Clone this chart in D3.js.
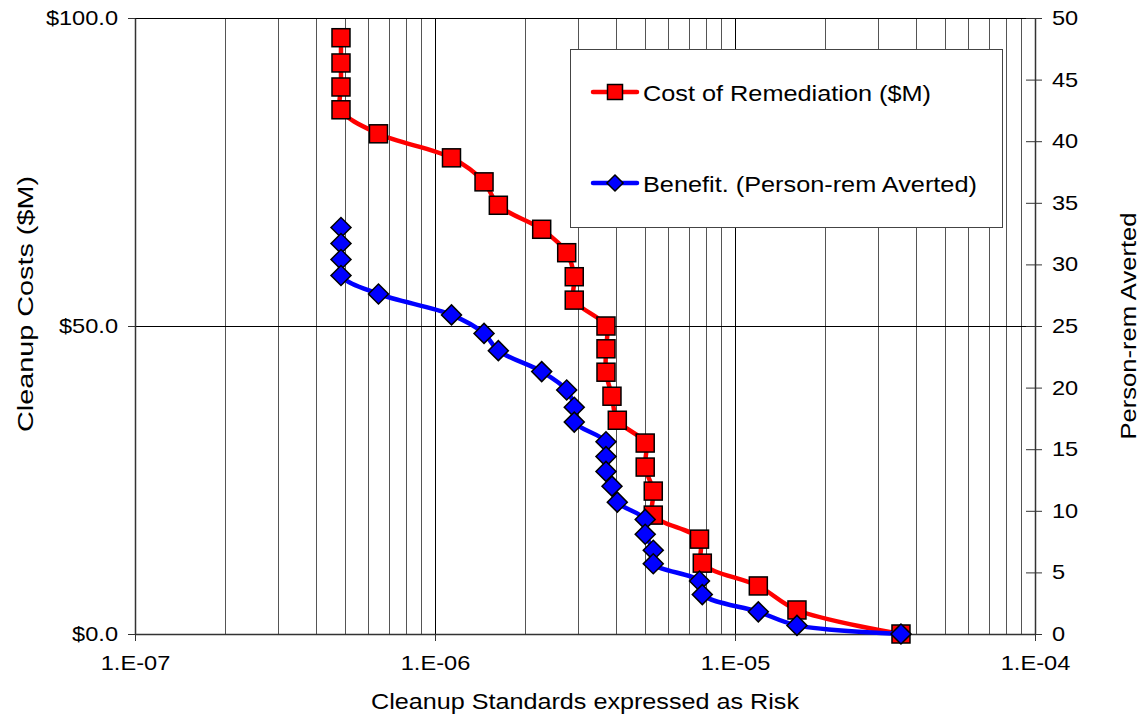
<!DOCTYPE html>
<html>
<head>
<meta charset="utf-8">
<script src="https://cdn.jsdelivr.net/npm/d3@7"></script>
<style>
body { margin: 0; background: #fff; }
text { font-family: "Liberation Sans", Arial, sans-serif; fill: #000; }
</style>
</head>
<body>
<div id="chart"></div>
<script>
// risk level of each cleanup standard (shared by both series)
var riskLevels = [4.86e-7, 4.86e-7, 4.86e-7, 4.86e-7, 6.48e-7, 1.135e-6, 1.457e-6, 1.626e-6,
	2.268e-6, 2.748e-6, 2.912e-6, 2.912e-6, 3.715e-6, 3.715e-6, 3.715e-6, 3.89e-6, 4.052e-6,
	5.02e-6, 5.02e-6, 5.34e-6, 5.34e-6, 7.615e-6, 7.78e-6, 1.196e-5, 1.609e-5, 3.575e-5];
var costValues = [96.8, 92.7, 88.8, 85.1, 81.2, 77.3, 73.4, 69.6, 65.7, 61.9, 58.0, 54.2, 50.0,
	46.3, 42.5, 38.6, 34.7, 31.0, 27.1, 23.2, 19.3, 15.4, 11.5, 7.8, 3.9, 0];
var personRem = [33.0, 31.7, 30.4, 29.1, 27.6, 25.9, 24.4, 23.0, 21.3, 19.8, 18.4, 17.2, 15.6,
	14.4, 13.2, 12.0, 10.7, 9.3, 8.1, 6.8, 5.7, 4.3, 3.2, 1.8, 0.7, 0];
var riskTicks = [1e-7, 1e-6, 1e-5, 1e-4];
var costTicks = [0, 50, 100];
var remTicks = [0, 5, 10, 15, 20, 25, 30, 35, 40, 45, 50];
var seriesNames = ["Cost of Remediation ($M)", "Benefit. (Person-rem Averted)"];

var width = 1146, height = 717;
var margin = {top: 18, left: 135};
var plotW = 900, plotH = 616;

var xScale = d3.scaleLog().domain([1e-7, 1e-4]).range([0, plotW]);
var yCost = d3.scaleLinear().domain([0, 100]).range([plotH, 0]);
var yRem = d3.scaleLinear().domain([0, 50]).range([plotH, 0]);

// Excel text looks a bit wider than Arial, stretch it horizontally
function stretch(sel, k) {
	sel.each(function() {
		var t = d3.select(this);
		var x = +t.attr("x") || 0;
		t.attr("transform", "translate(" + (x * (1 - k)) + ",0) scale(" + k + ",1)");
	});
}

var svg = d3.select("#chart").append("svg")
	.attr("width", width)
	.attr("height", height);

var g = svg.append("g")
	.attr("transform", "translate(" + margin.left + "," + margin.top + ")");

// vertical grid (minor + major)
g.append("g").selectAll("line").data(xScale.ticks())
	.enter().append("line")
		.attr("x1", function(d){ return Math.round(xScale(d)) + 0.5; })
		.attr("x2", function(d){ return Math.round(xScale(d)) + 0.5; })
		.attr("y1", 0)
		.attr("y2", plotH)
		.attr("stroke", function(d){
			return riskTicks.some(function(t){ return Math.abs(t - d) / t < 1e-6; }) ? "#000" : "#555";
		})
		.attr("stroke-width", 1);

// horizontal grid
g.append("g").selectAll("line").data(costTicks.slice(1))
	.enter().append("line")
		.attr("x1", 0)
		.attr("x2", plotW)
		.attr("y1", function(d){ return Math.round(yCost(d)) + 0.5; })
		.attr("y2", function(d){ return Math.round(yCost(d)) + 0.5; })
		.attr("stroke", "#000");

// axes
var xAxis = g.append("g")
	.attr("transform", "translate(0," + plotH + ")")
	.call(d3.axisBottom(xScale).tickValues(riskTicks)
		.tickFormat(function(d){ return "1.E-" + String(-Math.round(Math.log10(d))).padStart(2, "0"); })
		.tickSizeInner(7).tickSizeOuter(0).tickPadding(15));

var leftAxis = g.append("g")
	.call(d3.axisLeft(yCost).tickValues(costTicks)
		.tickFormat(function(d){ return "$" + d.toFixed(1); })
		.tickSizeInner(7).tickSizeOuter(0).tickPadding(10));

var rightAxis = g.append("g")
	.attr("transform", "translate(" + plotW + ",0)")
	.call(d3.axisRight(yRem).tickValues(remTicks)
		.tickSizeInner(7).tickSizeOuter(0).tickPadding(10));
rightAxis.selectAll(".tick line").attr("x1", -9);

[xAxis, leftAxis, rightAxis].forEach(function(a){
	a.select(".domain").attr("stroke", "#333").attr("stroke-width", 1.5);
	a.selectAll(".tick line").attr("stroke", "#333");
	a.selectAll("text")
		.style("font-family", "'Liberation Sans', Arial, sans-serif")
		.style("font-size", "20px")
		.attr("fill", "#000");
	stretch(a.selectAll("text"), 1.18);
});

// axis titles
svg.append("text")
	.attr("x", 585).attr("y", 709)
	.attr("text-anchor", "middle")
	.attr("textLength", 428).attr("lengthAdjust", "spacingAndGlyphs")
	.style("font-size", "22px")
	.text("Cleanup Standards expressed as Risk");

svg.append("text")
	.attr("transform", "translate(33,304) rotate(-90)")
	.attr("text-anchor", "middle")
	.attr("textLength", 256).attr("lengthAdjust", "spacingAndGlyphs")
	.style("font-size", "22px")
	.text("Cleanup Costs ($M)");

svg.append("text")
	.attr("transform", "translate(1136,326) rotate(-90)")
	.attr("text-anchor", "middle")
	.attr("textLength", 227).attr("lengthAdjust", "spacingAndGlyphs")
	.style("font-size", "22px")
	.text("Person-rem Averted");

// series
var idx = d3.range(riskLevels.length);

var costLine = d3.line()
	.x(function(i){ return xScale(riskLevels[i]); })
	.y(function(i){ return yCost(costValues[i]); })
	.curve(d3.curveCatmullRom.alpha(0.5));

var remLine = d3.line()
	.x(function(i){ return xScale(riskLevels[i]); })
	.y(function(i){ return yRem(personRem[i]); })
	.curve(d3.curveCatmullRom.alpha(0.5));

g.append("path").attr("d", costLine(idx))
	.attr("fill", "none").attr("stroke", "#ff0000").attr("stroke-width", 4.5);

g.selectAll("rect.cost").data(idx)
	.enter().append("rect")
		.attr("class", "cost")
		.attr("x", function(i){ return xScale(riskLevels[i]) - 9; })
		.attr("y", function(i){ return yCost(costValues[i]) - 9; })
		.attr("width", 18).attr("height", 18)
		.attr("fill", "#ff0000").attr("stroke", "#000").attr("stroke-width", 1.5);

g.append("path").attr("d", remLine(idx))
	.attr("fill", "none").attr("stroke", "#0000ff").attr("stroke-width", 4.5);

var diamond = d3.symbol().type(d3.symbolSquare).size(200);

g.selectAll("path.rem").data(idx)
	.enter().append("path")
		.attr("class", "rem")
		.attr("d", diamond)
		.attr("transform", function(i){
			return "translate(" + xScale(riskLevels[i]) + "," + yRem(personRem[i]) + ") rotate(45)";
		})
		.attr("fill", "#0000ff").attr("stroke", "#000").attr("stroke-width", 1.5);

// legend
var legend = svg.append("g");
legend.append("rect")
	.attr("x", 570.5).attr("y", 49.5)
	.attr("width", 432).attr("height", 178)
	.attr("fill", "#fff").attr("stroke", "#444").attr("stroke-width", 1);

var legendColors = ["#ff0000", "#0000ff"];
var legendY = [92, 183];

seriesNames.forEach(function(name, k){
	var ly = legendY[k];
	legend.append("line")
		.attr("x1", 593).attr("x2", 637)
		.attr("y1", ly).attr("y2", ly)
		.attr("stroke", legendColors[k]).attr("stroke-width", 4.5)
		.attr("stroke-linecap", "round");
	if (k === 0) {
		legend.append("rect")
			.attr("x", 607.5).attr("y", ly - 7.5)
			.attr("width", 15).attr("height", 15)
			.attr("fill", legendColors[k]).attr("stroke", "#000").attr("stroke-width", 1.5);
	} else {
		legend.append("path")
			.attr("d", d3.symbol().type(d3.symbolSquare).size(130))
			.attr("transform", "translate(615," + ly + ") rotate(45)")
			.attr("fill", legendColors[k]).attr("stroke", "#000").attr("stroke-width", 1.5);
	}
	var t = legend.append("text")
		.attr("x", 643).attr("y", ly + 9)
		.style("font-size", "22px")
		.text(name);
	stretch(t, 1.15);
});
</script>
</body>
</html>
